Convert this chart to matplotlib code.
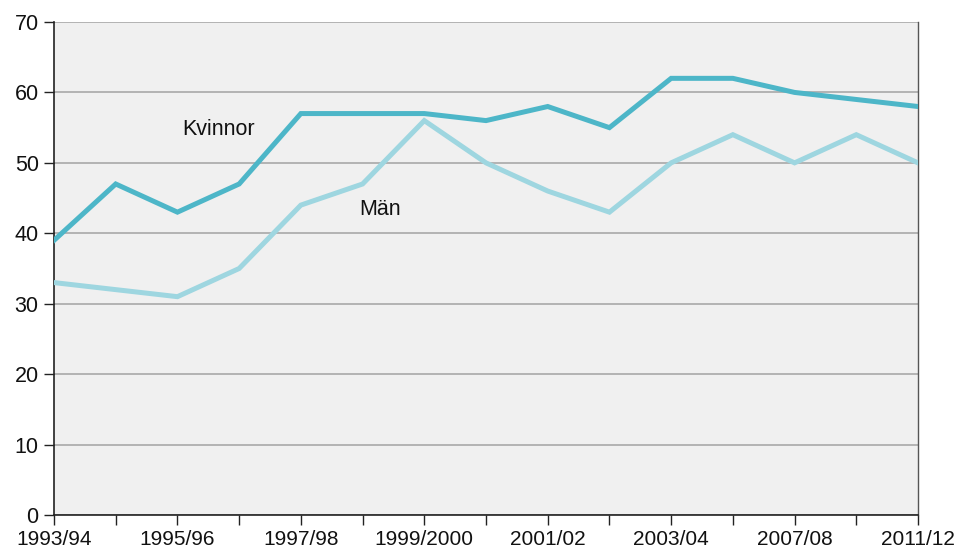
import matplotlib
matplotlib.use("Agg")
import matplotlib.pyplot as plt

years = ["1993/94", "1994/95", "1995/96", "1996/97", "1997/98", "1998/99",
         "1999/2000", "2000/01", "2001/02", "2002/03", "2003/04", "2005/06",
         "2007/08", "2009/10", "2011/12"]
kvinnor = [39, 47, 43, 47, 57, 57, 57, 56, 58, 55, 62, 62, 60, 59, 58]
man = [33, 32, 31, 35, 44, 47, 56, 50, 46, 43, 50, 54, 50, 54, 50]
yticks = [0, 10, 20, 30, 40, 50, 60, 70]

plt.rcParams['font.family'] = ['Liberation Sans', 'DejaVu Sans']

fig = plt.figure(figsize=(9.57, 5.52), dpi=100)
ax = fig.add_axes([54/957, 37/552, 864/957, 493/552])
ax.set_facecolor('#f0f0f0')

x = list(range(len(years)))
ax.plot(x, kvinnor, color='#4db6c8', lw=3.6, solid_joinstyle='miter', zorder=3)
ax.plot(x, man, color='#9ed6e0', lw=3.6, solid_joinstyle='miter', zorder=3)

ax.text(2.08, 54.7, "Kvinnor", fontsize=15.5, va='center', color='#111111')
ax.text(4.95, 43.4, "Män", fontsize=15.5, va='center', color='#111111')

ax.set_xlim(0, len(years) - 1)
ax.set_ylim(0, 70)
ax.set_yticks(yticks)
ax.set_yticklabels([str(v) for v in yticks], fontsize=15.5)
ax.set_xticks(x)
ax.set_xticklabels([y if i % 2 == 0 else "" for i, y in enumerate(years)], fontsize=15)
ax.grid(axis='y', color='#a8a8a8', lw=1.2, zorder=1)
ax.tick_params(axis='y', length=7, width=1, pad=4, color='#222222', labelcolor='#111111')
ax.tick_params(axis='x', length=7, width=1, pad=4, color='#222222', labelcolor='#111111')

for s in ['left', 'bottom']:
    ax.spines[s].set_color('#222222')
    ax.spines[s].set_linewidth(1.2)
ax.spines['top'].set_visible(False)
ax.spines['right'].set_color('#555555')
ax.spines['right'].set_linewidth(1.0)

fig.savefig('out.png', dpi=100)
